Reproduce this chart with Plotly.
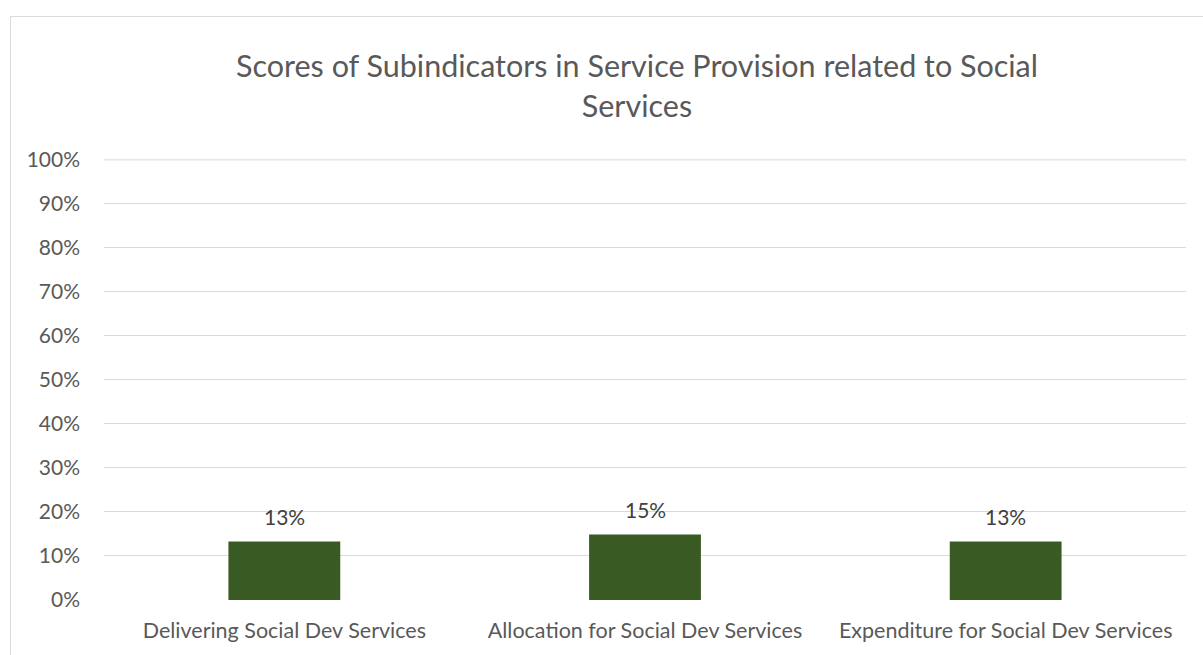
import plotly.graph_objects as go

categories = ["Delivering Social Dev Services", "Allocation for Social Dev Services", "Expenditure for Social Dev Services"]
values = [0.133, 0.149, 0.133]
value_labels = ["13%", "15%", "13%"]
y_ticks = [0, 0.1, 0.2, 0.3, 0.4, 0.5, 0.6, 0.7, 0.8, 0.9, 1.0]
y_tick_labels = ["0%", "10%", "20%", "30%", "40%", "50%", "60%", "70%", "80%", "90%", "100%"]
title_text = "Scores of Subindicators in Service Provision related to Social<br>Services"

FONT = "Lato, Carlito, Calibri, sans-serif"
W, H = 1203, 655
L, R, T, B = 104, 17, 159, 52
pw, ph = W - L - R, H - T - B

def px_x(x):
    return (x - L) / pw

def px_y(y):
    return (H - B - y) / ph

fig = go.Figure()
fig.add_trace(go.Bar(
    x=categories, y=values,
    marker=dict(color="#3a5a23", line=dict(width=0)),
    width=0.31,
    hoverinfo="skip",
))

for c, v, t in zip(categories, values, value_labels):
    fig.add_annotation(x=c, y=v, text=t, showarrow=False, yanchor="bottom", yshift=10,
                       font=dict(family=FONT, size=21, color="#404040"))

fig.add_annotation(xref="paper", yref="paper", x=px_x(637), y=px_y(85), text=title_text,
                   showarrow=False, xanchor="center", yanchor="middle",
                   font=dict(family=FONT, size=30.5, color="#595959"))

fig.add_shape(type="rect", xref="paper", yref="paper",
              x0=px_x(10.5), x1=px_x(1230), y0=px_y(15.5), y1=px_y(700),
              line=dict(color="#d9d9d9", width=1), fillcolor="rgba(0,0,0,0)", layer="below")

# top gridline (plotly hides gridlines at the plot edge)
fig.add_shape(type="line", xref="paper", yref="y", x0=0, x1=1, y0=y_ticks[-1], y1=y_ticks[-1],
              line=dict(color="#d9d9d9", width=1), layer="below")

fig.update_layout(
    width=W, height=H,
    margin=dict(l=L, r=R, t=T, b=B),
    paper_bgcolor="white", plot_bgcolor="white",
    showlegend=False,
    bargap=0.69,
    xaxis=dict(showgrid=False, showline=False, ticks="", ticklabelstandoff=15,
               tickfont=dict(family=FONT, size=21.5, color="#595959")),
    yaxis=dict(range=[0, 1.002], tickvals=y_ticks, ticktext=y_tick_labels,
               showgrid=True, gridcolor="#d9d9d9", gridwidth=1,
               zeroline=False, showline=False, ticks="", ticklabelstandoff=23,
               tickfont=dict(family=FONT, size=21, color="#595959")),
)

fig.write_html("out.html")
